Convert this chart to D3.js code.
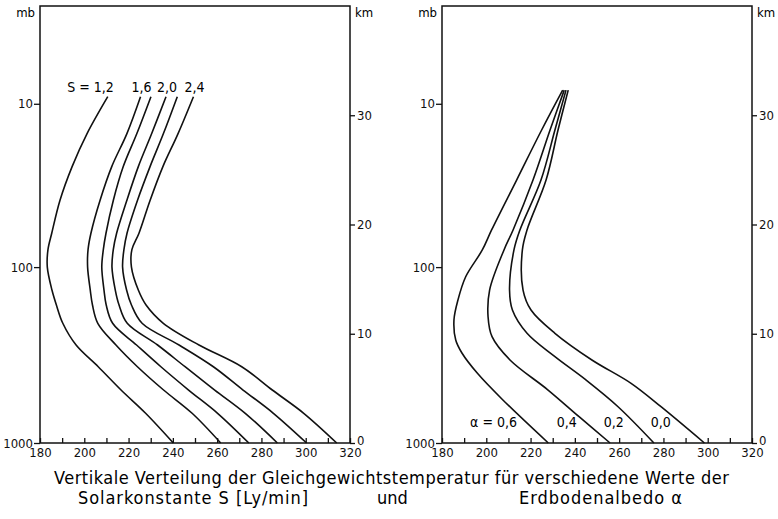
<!DOCTYPE html>
<html>
<head>
<meta charset="utf-8">
<script src="https://cdn.jsdelivr.net/npm/d3@7"></script>
<style>
  body { margin: 0; background: #fff; }
  svg { display: block; }
</style>
</head>
<body>
<svg id="chart" width="778" height="519"></svg>
<script>
// Altitude levels (km) of the read points, left panel
var solarKm = [0, 2.72, 4.85, 6.98, 8.97, 10.96, 12.63, 14.0, 16.1, 17.7, 19.2, 22.2, 25.3, 28.3, 31.7];

// Temperature [K] for different solar constants S [Ly/min]
var solarNames = ["1,2", "1,6", "1,8", "2,0", "2,2", "2,4"];
var solarLabels = ["S = 1,2", "1,6", "", "2,0", "", "2,4"];
var tS12 = [240.2, 227.7, 216.6, 206.3, 196.3, 190.3, 187.4, 185.4, 183.3, 183.6, 185.3, 189.0, 194.5, 201.2, 210.6];
var tS16 = [261.6, 248.7, 235.8, 224.0, 214.3, 206.1, 203.7, 202.7, 201.5, 201.7, 203.0, 207.1, 212.4, 219.2, 225.4];
var tS18 = [274.3, 260.2, 247.1, 234.6, 223.6, 212.8, 209.9, 208.9, 207.9, 208.6, 209.8, 213.1, 217.6, 223.7, 230.1];
var tS20 = [287.2, 272.7, 258.9, 245.5, 233.1, 219.4, 215.7, 214.0, 212.5, 213.1, 214.6, 219.2, 224.4, 230.4, 236.9];
var tS22 = [300.4, 285.4, 271.7, 258.3, 242.8, 226.1, 221.3, 219.1, 217.3, 217.9, 219.3, 224.0, 229.7, 235.7, 242.0];
var tS24 = [314.0, 299.1, 284.9, 271.1, 251.8, 235.7, 227.9, 224.4, 221.3, 221.5, 224.7, 229.7, 235.5, 242.3, 249.3];

// Right panel: ground albedo alpha
var albedoLabels = ["\u03b1 = 0,6", "0,4", "0,2", "0,0"];
var kmA06 = [0, 3.94, 6.38, 8.24, 9.43, 11.26, 13.09, 15.22, 17.67, 19.5, 24.07, 28.65, 32.3];
var tA06 = [228.0, 207.5, 196.0, 189.0, 186.2, 185.4, 187.2, 190.7, 198.2, 202.4, 213.7, 225.0, 234.5];
var kmA04 = [0, 2.41, 4.85, 7.6, 9.73, 11.56, 14.0, 17.67, 19.5, 24.07, 28.65, 32.3];
var tA04 = [255.9, 241.9, 227.9, 210.7, 202.6, 200.8, 201.5, 208.0, 212.1, 221.1, 228.8, 235.2];
var kmA02 = [0, 3.32, 5.77, 7.9, 10.04, 12.17, 14.0, 17.67, 19.5, 24.07, 28.65, 32.3];
var tA02 = [275.7, 259.5, 245.0, 231.0, 218.4, 211.8, 210.5, 212.5, 215.2, 224.7, 231.0, 236.0];
var kmA00 = [0, 3.32, 5.46, 7.6, 10.04, 12.17, 14.0, 17.67, 19.5, 24.07, 28.65, 32.3];
var tA00 = [298.5, 278.9, 265.4, 247.7, 231.0, 220.2, 216.6, 216.3, 218.4, 227.0, 232.4, 237.0];

// Axis ticks
var tempTicks = d3.range(180, 321, 10);
var pressureLabels = ["1000", "100", "10"];
var pressureKm = [0, 16.1, 31.05];
var kmTicks = [0, 10, 20, 30];

var captionLine1 = "Vertikale Verteilung der Gleichgewichtstemperatur f\u00fcr verschiedene Werte der";
var captionLine2 = ["Solarkonstante S [Ly/min]", "und", "Erdbodenalbedo \u03b1"];

var svg = d3.select("#chart");
var panelW = 310;
var plotTop = 6, plotBottom = 443;
var tickFont = "'DejaVu Sans Condensed', 'DejaVu Sans', sans-serif";

var yScale = d3.scaleLinear().domain([0, 40]).range([plotBottom, plotTop]);

function toPoints(km, temps) {
    return km.map(function(z, i) { return { z: z, t: temps[i] }; });
}

var solarCurves = [tS12, tS16, tS18, tS20, tS22, tS24].map(function(t, i) {
    return { name: solarNames[i], label: solarLabels[i], points: toPoints(solarKm, t) };
});
var albedoCurves = [[kmA06, tA06], [kmA04, tA04], [kmA02, tA02], [kmA00, tA00]].map(function(d, i) {
    return { label: albedoLabels[i], points: toPoints(d[0], d[1]) };
});

function drawPanel(x0, curves, labelFn) {
    var xScale = d3.scaleLinear().domain([180, 320]).range([x0, x0 + panelW]);
    var g = svg.append("g");

    var line = d3.line()
        .x(function(d) { return xScale(d.t); })
        .y(function(d) { return yScale(d.z); })
        .curve(d3.curveCatmullRom.alpha(0.5));

    g.selectAll("path.curve")
        .data(curves)
        .enter()
        .append("path")
        .attr("class", "curve")
        .attr("d", function(d) { return line(d.points); })
        .attr("fill", "none")
        .attr("stroke", "#111")
        .attr("stroke-width", 1.6);

    // frame
    g.append("rect")
        .attr("x", x0)
        .attr("y", plotTop)
        .attr("width", panelW)
        .attr("height", plotBottom - plotTop)
        .attr("fill", "none")
        .attr("stroke", "#111")
        .attr("stroke-width", 1.5);

    // bottom temperature axis, ticks pointing inward
    var xAxis = g.append("g")
        .attr("transform", "translate(0," + plotBottom + ")")
        .call(d3.axisBottom(xScale)
            .tickValues(tempTicks)
            .tickSize(-5)
            .tickPadding(5)
            .tickFormat(function(d) { return d % 20 === 0 ? d : ""; }));

    // pressure axis (left)
    var pAxis = g.append("g")
        .attr("transform", "translate(" + x0 + ",0)")
        .call(d3.axisLeft(yScale)
            .tickValues(pressureKm)
            .tickSize(6)
            .tickPadding(1)
            .tickFormat(function(d, i) { return pressureLabels[i]; }));

    // height axis (right)
    var kAxis = g.append("g")
        .attr("transform", "translate(" + (x0 + panelW) + ",0)")
        .call(d3.axisRight(yScale)
            .tickValues(kmTicks)
            .tickSize(5)
            .tickPadding(2));

    [xAxis, pAxis, kAxis].forEach(function(a) {
        a.select(".domain").remove();
        a.selectAll("line").attr("stroke", "#111").attr("stroke-width", 1.3);
        a.selectAll("text")
            .attr("fill", "#111")
            .style("font-family", tickFont)
            .style("font-size", "13px");
    });
    // lift the ground-level km label a little off the temperature labels
    kAxis.selectAll(".tick text").filter(function(d) { return d === 0; }).attr("dy", "0.1em");

    g.append("text")
        .attr("x", x0 - 5)
        .attr("y", 17)
        .attr("text-anchor", "end")
        .style("font-family", tickFont)
        .style("font-size", "13px")
        .text("mb");

    g.append("text")
        .attr("x", x0 + panelW + 5)
        .attr("y", 17)
        .style("font-family", tickFont)
        .style("font-size", "13px")
        .text("km");

    labelFn(g, xScale, curves);
}

// left: labels above the top of the curves
drawPanel(40, solarCurves, function(g, xScale, curves) {
    g.selectAll("text.clabel")
        .data(curves.filter(function(d) { return d.label !== ""; }))
        .enter()
        .append("text")
        .attr("class", "clabel")
        .attr("x", function(d, i) {
            var p = d.points[d.points.length - 1];
            return xScale(p.t) + (i === 0 ? 6 : 1);
        })
        .attr("y", function(d) {
            var p = d.points[d.points.length - 1];
            return yScale(p.z) - 5;
        })
        .attr("text-anchor", function(d, i) { return i === 0 ? "end" : "middle"; })
        .style("font-family", tickFont)
        .style("font-size", "14px")
        .text(function(d) { return d.label; });
});

// right: labels left of the curves near the ground
drawPanel(442, albedoCurves, function(g, xScale, curves) {
    var zLab = 1.5;
    g.selectAll("text.clabel")
        .data(curves)
        .enter()
        .append("text")
        .attr("class", "clabel")
        .attr("x", function(d) {
            var a = d.points[0], b = d.points[1];
            var t = a.t + (b.t - a.t) * (zLab - a.z) / (b.z - a.z);
            return xScale(t) - 14;
        })
        .attr("y", yScale(zLab))
        .attr("text-anchor", "end")
        .style("font-family", tickFont)
        .style("font-size", "14px")
        .text(function(d) { return d.label; });
});

// caption
var capFont = "'DejaVu Sans Condensed', 'DejaVu Sans', sans-serif";
svg.append("text")
    .attr("x", 54)
    .attr("y", 484)
    .attr("textLength", 675)
    .attr("lengthAdjust", "spacing")
    .style("font-family", capFont)
    .style("font-size", "18px")
    .text(captionLine1);

var cap2x = [78, 377, 519];
var cap2w = [230, 0, 163];
svg.selectAll("text.cap2")
    .data(captionLine2)
    .enter()
    .append("text")
    .attr("class", "cap2")
    .attr("x", function(d, i) { return cap2x[i]; })
    .attr("y", 504)
    .attr("textLength", function(d, i) { return cap2w[i] || null; })
    .attr("lengthAdjust", "spacing")
    .style("font-family", capFont)
    .style("font-size", "18px")
    .text(function(d) { return d; });
</script>
</body>
</html>
